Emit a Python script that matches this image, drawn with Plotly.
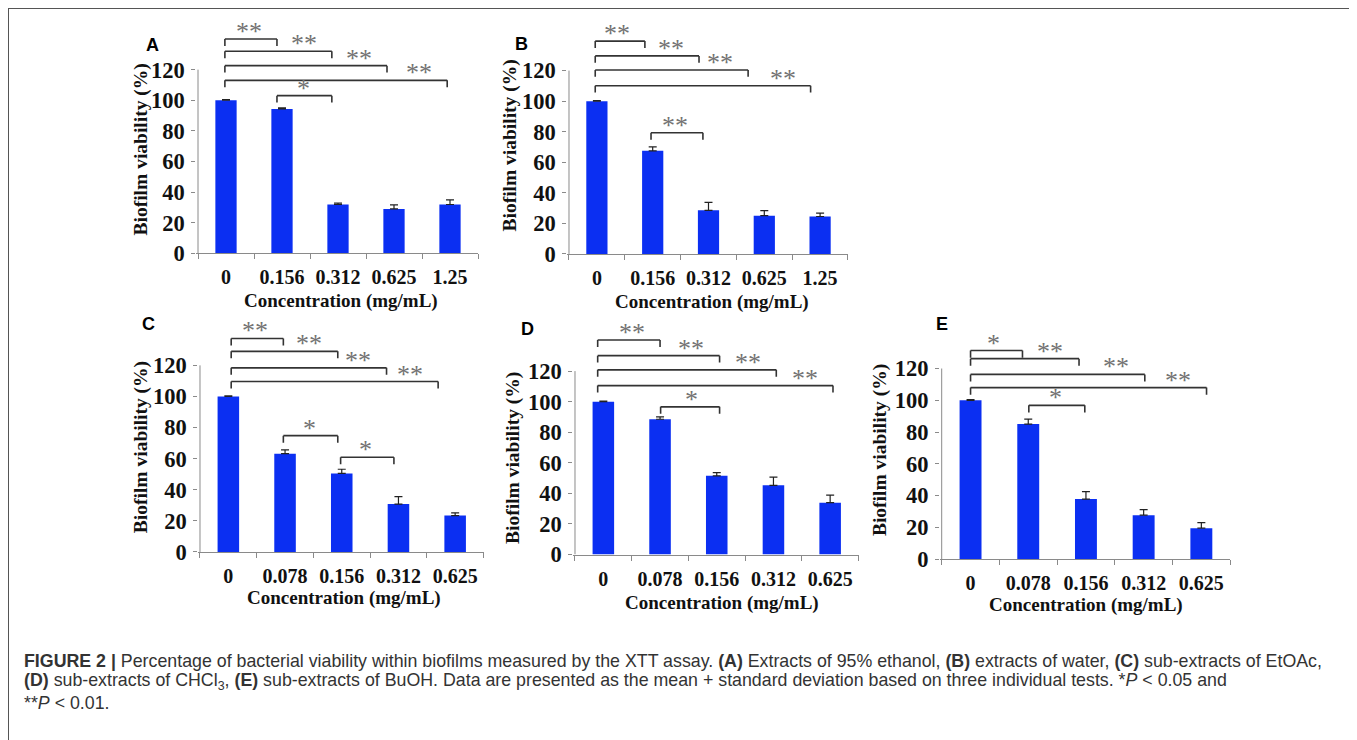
import plotly.graph_objects as go

# ---------------- data ----------------
CATS_AB = ["0", "0.156", "0.312", "0.625", "1.25"]
CATS_CDE = ["0", "0.078", "0.156", "0.312", "0.625"]

VAL_A = [100, 94.3, 31.9, 29.0, 31.9]
ERR_A = [0.4, 0.8, 0.9, 2.7, 3.0]
VAL_B = [100, 67.5, 28.5, 25.0, 24.5]
ERR_B = [0.4, 2.5, 5.2, 3.3, 2.2]
VAL_C = [100, 63.2, 50.5, 30.8, 23.4]
ERR_C = [0.4, 2.5, 2.7, 4.8, 1.7]
VAL_D = [100, 88.5, 51.5, 45.3, 33.9]
ERR_D = [0.4, 1.5, 2.1, 5.3, 4.9]
VAL_E = [100, 85.0, 37.8, 27.7, 19.5]
ERR_E = [0.4, 3.1, 4.7, 3.5, 3.5]

Y_TICKS = [0, 20, 40, 60, 80, 100, 120]

# significance comparisons (category index i vs j, label)
SIG_A = [(0, 1, "**"), (0, 2, "**"), (0, 3, "**"), (0, 4, "**"), (1, 2, "*")]
SIG_B = [(0, 1, "**"), (0, 2, "**"), (0, 3, "**"), (0, 4, "**"), (1, 2, "**")]
SIG_C = [(0, 1, "**"), (0, 2, "**"), (0, 3, "**"), (0, 4, "**"), (1, 2, "*"), (2, 3, "*")]
SIG_D = [(0, 1, "**"), (0, 2, "**"), (0, 3, "**"), (0, 4, "**"), (1, 2, "*")]
SIG_E = [(0, 1, "*"), (0, 2, "**"), (0, 3, "**"), (0, 4, "**"), (1, 2, "*")]

X_TITLE = "Concentration (mg/mL)"
Y_TITLE = "Biofilm viability (%)"

CAPTION = [
    "<b>FIGURE 2 |</b> Percentage of bacterial viability within biofilms measured by the XTT assay. "
    "<b>(A)</b> Extracts of 95% ethanol, <b>(B)</b> extracts of water, <b>(C)</b> sub-extracts of EtOAc,",
    "<b>(D)</b> sub-extracts of CHCl<sub>3</sub>, <b>(E)</b> sub-extracts of BuOH. Data are presented as the "
    "mean + standard deviation based on three individual tests. *<i>P</i> &lt; 0.05 and",
    "**<i>P</i> &lt; 0.01.",
]

# ---------------- layout / style ----------------
W, H = 1357, 740
OFF = 8  # page body margin of the html wrapper
BLUE = "#0b2ff2"
AXIS = "#8a8a8a"
BRACKET = "#333333"
STAR = "#727272"
SERIF = "Liberation Serif"
SANS = "Liberation Sans"
YMAX = 145
DROP = 4.5

# pixel geometry per panel (page coordinates): left boundary px, category width, px of y=0, px per unit
GEOM = {
    "A": dict(xl=198, w=56.0, y0=257.7, s=1.558, letter=(152, 46), ytitle=(141, 152), xtitle=(341, 306)),
    "B": dict(xl=569, w=55.8, y0=258.3, s=1.555, letter=(521, 45), ytitle=(510, 148), xtitle=(712, 307)),
    "C": dict(xl=200, w=56.7, y0=561.7, s=1.583, letter=(148, 330), ytitle=(141, 455), xtitle=(344, 609)),
    "D": dict(xl=575, w=56.7, y0=564.3, s=1.556, letter=(527, 335), ytitle=(513, 466), xtitle=(722, 614)),
    "E": dict(xl=941.7, w=57.7, y0=569.0, s=1.617, letter=(942, 330), ytitle=(880, 458), xtitle=(1086, 616)),
}
# bracket heights (y units) and end offsets (category units)
BRK = {
    "A": dict(lev=[140, 132, 122.6, 113, 103], lo=[-0.02, -0.02, -0.02, -0.02, -0.09],
              ro=[-0.09, -0.11, -0.125, -0.05, -0.11]),
    "B": dict(lev=[139.3, 129.6, 120.4, 110.1, 79.3], lo=[-0.03, -0.03, -0.03, -0.03, -0.03],
              ro=[-0.14, -0.17, -0.29, -0.17, -0.1]),
    "C": dict(lev=[137.3, 129, 118.4, 109.6, 74.8, 60.9], lo=[0.05, 0.05, 0.05, 0.05, -0.03, -0.02],
              ro=[-0.03, -0.07, -0.21, -0.3, -0.07, -0.08]),
    "D": dict(lev=[140.3, 130.1, 120.8, 110.5, 96.6], lo=[-0.1, -0.1, -0.1, -0.1, 0.01],
              ro=[0.0, 0.05, 0.05, 0.05, 0.05]),
    "E": dict(lev=[131.3, 126.2, 116.3, 108, 96.8], lo=[0.0, 0.0, 0.0, 0.0, 0.01],
              ro=[-0.1, -0.12, 0.02, 0.09, -0.02]),
}

panels = [
    ("A", CATS_AB, VAL_A, ERR_A, SIG_A),
    ("B", CATS_AB, VAL_B, ERR_B, SIG_B),
    ("C", CATS_CDE, VAL_C, ERR_C, SIG_C),
    ("D", CATS_CDE, VAL_D, ERR_D, SIG_D),
    ("E", CATS_CDE, VAL_E, ERR_E, SIG_E),
]

fig = go.Figure()
shapes = []
annotations = []
layout_axes = {}


def px(x):
    return (x - OFF) / W


def py(y):
    return 1 - (y - OFF) / H


for k, (name, cats, vals, errs, sig) in enumerate(panels):
    n = k + 1
    xa = "x" if n == 1 else f"x{n}"
    ya = "y" if n == 1 else f"y{n}"
    g = GEOM[name]
    fig.add_trace(go.Bar(
        x=cats, y=vals, width=0.38,
        marker=dict(color=BLUE, line=dict(width=0)),
        error_y=dict(type="data", symmetric=False, array=errs, arrayminus=[0] * len(errs),
                     color="#222222", thickness=1.2, width=4),
        xaxis=xa, yaxis=ya, showlegend=False, hoverinfo="x+y",
    ))
    xd = [px(g["xl"] - 0.03 * g["w"]), px(g["xl"] + 5 * g["w"])]
    yd = [py(g["y0"]), py(g["y0"] - YMAX * g["s"])]
    layout_axes["xaxis" if n == 1 else f"xaxis{n}"] = dict(
        domain=xd, anchor=ya, type="category", categoryorder="array", categoryarray=cats,
        range=[-0.53, len(cats) - 0.5], showline=True, linecolor=AXIS, linewidth=1,
        ticks="outside", tickson="boundaries", ticklen=5, tickcolor=AXIS, tickwidth=1,
        tickfont=dict(family=SERIF, size=20, color="#111111", weight="bold"),
        ticklabelstandoff=6, showgrid=False, zeroline=False,
    )
    layout_axes["yaxis" if n == 1 else f"yaxis{n}"] = dict(
        domain=yd, anchor=xa, range=[0, YMAX], tickmode="array", tickvals=Y_TICKS,
        ticks="outside", ticklen=4, tickcolor=AXIS, tickwidth=1, showline=False,
        tickfont=dict(family=SERIF, size=22.5, color="#111111", weight="bold"),
        showgrid=False, zeroline=False, ticklabelstandoff=2,
    )
    # y axis line (only up to 120)
    shapes.append(dict(type="line", xref=xa, yref=ya, x0=-0.5, x1=-0.5, y0=0, y1=Y_TICKS[-1],
                       line=dict(color=AXIS, width=1)))
    # significance brackets
    b = BRK[name]
    for (i, j, lab), lev, lo, ro in zip(sig, b["lev"], b["lo"], b["ro"]):
        xl_ = i + lo
        xr_ = j + ro
        for (x0, y0, x1, y1) in [(xl_, lev - DROP, xl_, lev), (xl_, lev, xr_, lev), (xr_, lev, xr_, lev - DROP)]:
            shapes.append(dict(type="line", xref=xa, yref=ya, x0=x0, y0=y0, x1=x1, y1=y1,
                               line=dict(color=BRACKET, width=1.6)))
        annotations.append(dict(xref=xa, yref=ya, x=xr_ - 0.5, y=lev, text=lab, showarrow=False,
                                xanchor="center", yanchor="bottom", yshift=-9,
                                font=dict(family=SERIF, size=26, color=STAR)))
    # panel letter
    annotations.append(dict(xref="paper", yref="paper", x=px(g["letter"][0]), y=py(g["letter"][1]),
                            text=f"<b>{name}</b>", showarrow=False, xanchor="center", yanchor="middle",
                            font=dict(family=SANS, size=18, color="#000000")))
    # axis titles
    annotations.append(dict(xref="paper", yref="paper", x=px(g["ytitle"][0]), y=py(g["ytitle"][1]),
                            text=f"<b>{Y_TITLE}</b>", showarrow=False, textangle=-90,
                            xanchor="center", yanchor="middle",
                            font=dict(family=SERIF, size=19.5, color="#111111")))
    annotations.append(dict(xref="paper", yref="paper", x=px(g["xtitle"][0]), y=py(g["xtitle"][1]),
                            text=f"<b>{X_TITLE}</b>", showarrow=False,
                            xanchor="center", yanchor="middle",
                            font=dict(family=SERIF, size=19, color="#111111")))

# caption
for line, yc in zip(CAPTION, [673, 694, 715]):
    annotations.append(dict(xref="paper", yref="paper", x=px(22), y=py(yc), text=line,
                            showarrow=False, xanchor="left", yanchor="middle", align="left",
                            font=dict(family=SANS, size=17.8, color="#333333")))

# outer frame
shapes.append(dict(type="rect", xref="paper", yref="paper", x0=px(8), x1=px(1355), y0=-0.05, y1=py(8),
                   line=dict(color="#555555", width=2), fillcolor="rgba(0,0,0,0)", layer="below"))

fig.update_layout(
    width=W, height=H, margin=dict(l=0, r=0, t=0, b=0),
    paper_bgcolor="white", plot_bgcolor="rgba(0,0,0,0)",
    shapes=shapes, annotations=annotations,
    **layout_axes,
)

fig.write_html("out.html")
